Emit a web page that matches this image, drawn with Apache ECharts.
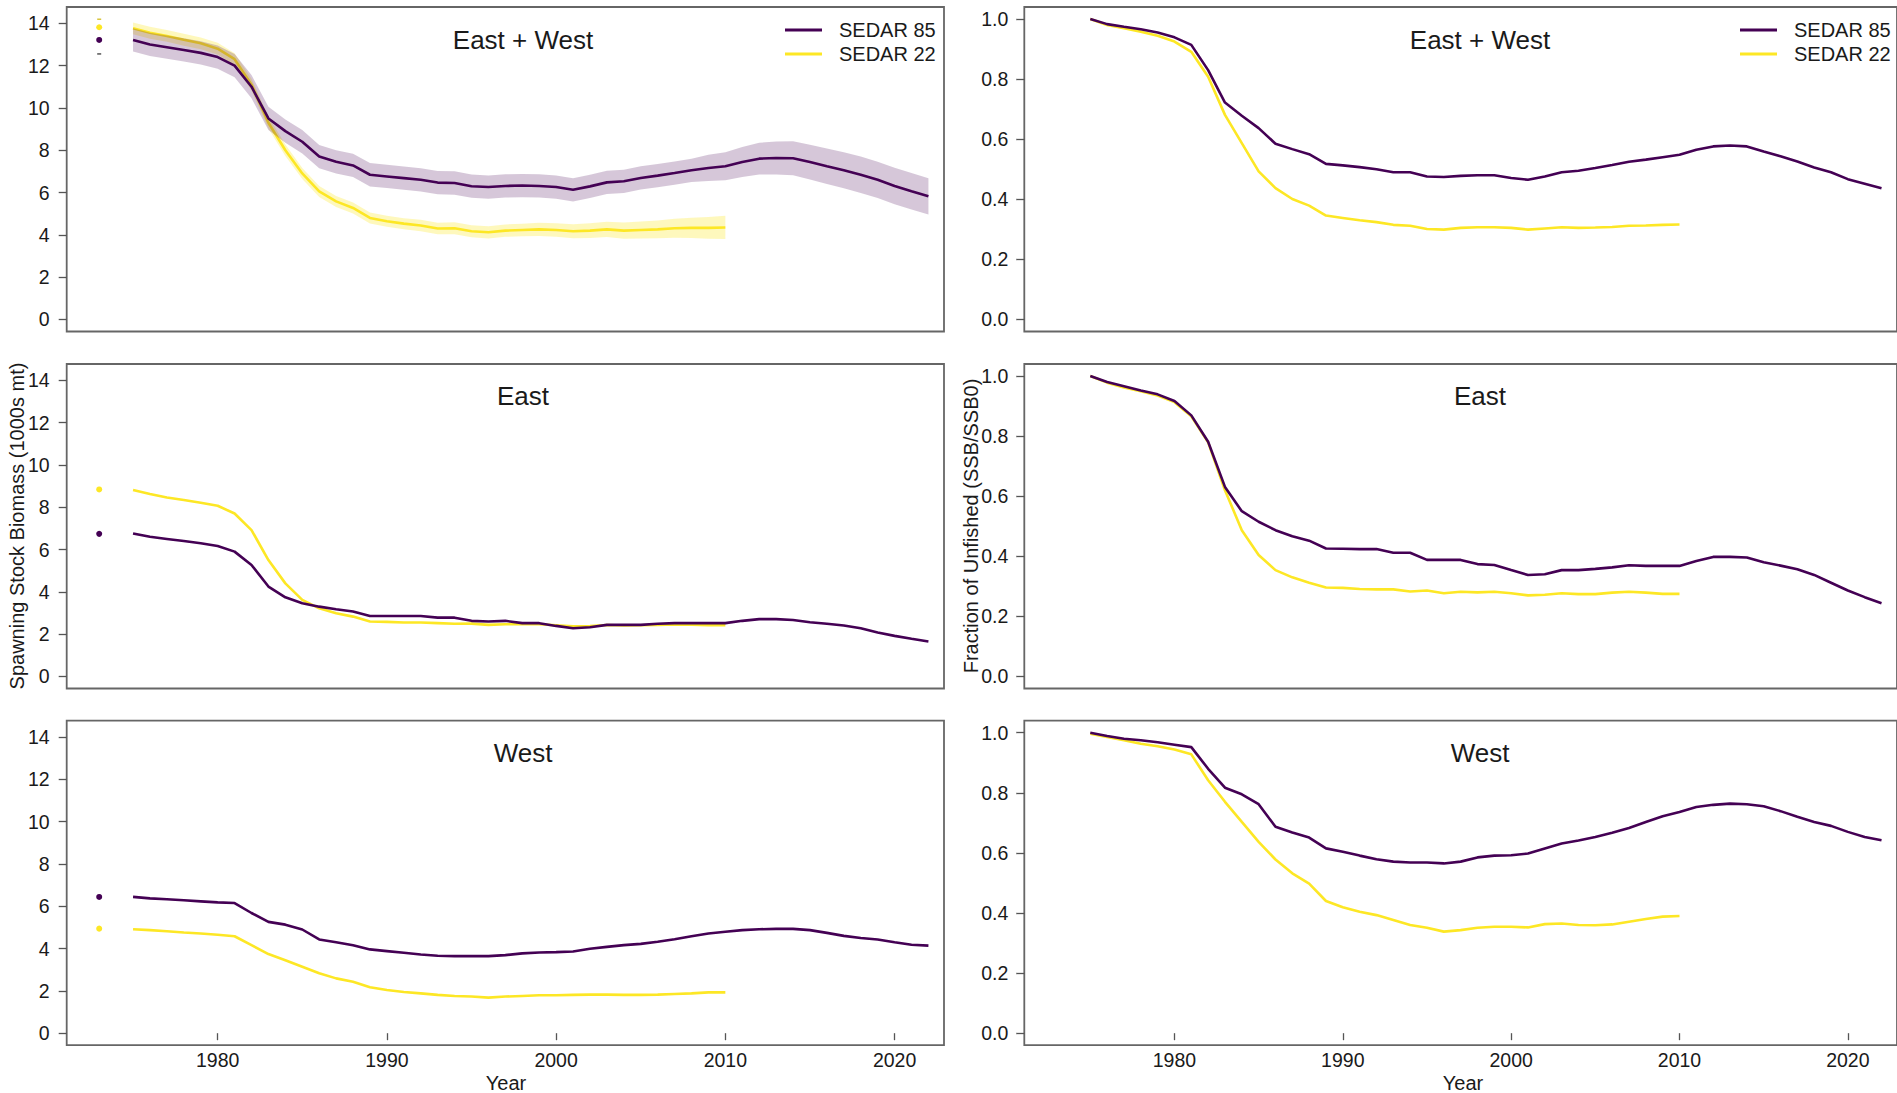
<!DOCTYPE html>
<html>
<head>
<meta charset="utf-8">
<script src="https://cdn.jsdelivr.net/npm/echarts@6/dist/echarts.min.js"></script>
<style>
html,body{margin:0;padding:0;background:#fff;}
#chart{width:1897px;height:1093px;}
</style>
</head>
<body>
<div id="chart"></div>
<script>
// ---------------- DATA ----------------
const years85 = [1975,1976,1977,1978,1979,1980,1981,1982,1983,1984,1985,1986,1987,1988,1989,1990,1991,1992,1993,1994,1995,1996,1997,1998,1999,2000,2001,2002,2003,2004,2005,2006,2007,2008,2009,2010,2011,2012,2013,2014,2015,2016,2017,2018,2019,2020,2021,2022];
const years22 = [1975,1976,1977,1978,1979,1980,1981,1982,1983,1984,1985,1986,1987,1988,1989,1990,1991,1992,1993,1994,1995,1996,1997,1998,1999,2000,2001,2002,2003,2004,2005,2006,2007,2008,2009,2010];

// East + West spawning stock biomass (1000s mt)
const ewSsb85 = [13.21,13.0,12.87,12.74,12.6,12.4,12.0,11.0,9.5,8.9,8.4,7.7,7.45,7.28,6.84,6.76,6.68,6.6,6.47,6.45,6.3,6.26,6.31,6.33,6.31,6.26,6.13,6.29,6.48,6.53,6.69,6.8,6.92,7.05,7.16,7.24,7.44,7.6,7.63,7.62,7.44,7.24,7.05,6.84,6.6,6.31,6.06,5.82];
const ewSsb85Hi = [13.76,13.55,13.42,13.29,13.15,12.95,12.55,11.55,10.05,9.45,8.95,8.25,8.0,7.83,7.39,7.31,7.23,7.15,7.02,7.0,6.85,6.81,6.86,6.88,6.86,6.81,6.68,6.84,7.03,7.08,7.24,7.35,7.47,7.6,7.78,7.9,8.15,8.35,8.41,8.42,8.26,8.08,7.9,7.7,7.46,7.17,6.92,6.68];
const ewSsb85Lo = [12.66,12.45,12.32,12.19,12.05,11.85,11.45,10.45,8.95,8.35,7.85,7.15,6.9,6.73,6.29,6.21,6.13,6.05,5.92,5.9,5.75,5.71,5.76,5.78,5.76,5.71,5.58,5.74,5.93,5.98,6.14,6.25,6.37,6.5,6.54,6.58,6.73,6.85,6.85,6.82,6.62,6.4,6.2,5.98,5.74,5.45,5.2,4.96];
const ewSsb22 = [13.76,13.55,13.4,13.22,13.05,12.8,12.3,11.1,9.3,8.0,6.9,6.05,5.58,5.27,4.8,4.64,4.53,4.44,4.3,4.31,4.17,4.12,4.2,4.23,4.26,4.23,4.17,4.2,4.26,4.2,4.23,4.26,4.31,4.33,4.33,4.35];
const ewSsb22Hi = [14.04,13.83,13.68,13.5,13.33,13.08,12.58,11.38,9.58,8.27,7.16,6.31,5.84,5.53,5.06,4.9,4.79,4.71,4.57,4.59,4.45,4.41,4.49,4.53,4.57,4.55,4.5,4.55,4.62,4.58,4.63,4.68,4.76,4.81,4.84,4.9];
const ewSsb22Lo = [13.48,13.27,13.12,12.94,12.77,12.52,12.02,10.82,9.02,7.73,6.64,5.79,5.32,5.01,4.54,4.38,4.27,4.17,4.03,4.03,3.89,3.83,3.91,3.93,3.95,3.91,3.84,3.85,3.9,3.82,3.83,3.84,3.86,3.85,3.82,3.8];

// East
const eSsb85 = [6.76,6.6,6.5,6.4,6.3,6.17,5.9,5.27,4.25,3.74,3.46,3.3,3.18,3.07,2.86,2.86,2.86,2.86,2.78,2.78,2.63,2.6,2.63,2.52,2.52,2.39,2.28,2.33,2.44,2.44,2.44,2.49,2.52,2.52,2.52,2.52,2.63,2.71,2.71,2.67,2.56,2.49,2.41,2.28,2.08,1.92,1.78,1.65];
const eSsb22 = [8.81,8.62,8.46,8.34,8.21,8.07,7.7,6.92,5.5,4.4,3.62,3.22,2.99,2.83,2.6,2.58,2.55,2.55,2.52,2.49,2.5,2.44,2.47,2.47,2.47,2.42,2.37,2.38,2.43,2.41,2.42,2.44,2.46,2.45,2.42,2.42];

// West
const wSsb85 = [6.44,6.37,6.33,6.28,6.23,6.18,6.15,5.68,5.26,5.13,4.9,4.43,4.3,4.16,3.96,3.88,3.8,3.72,3.66,3.64,3.64,3.64,3.69,3.77,3.81,3.83,3.86,3.99,4.08,4.16,4.22,4.32,4.44,4.58,4.71,4.79,4.87,4.91,4.93,4.93,4.87,4.74,4.6,4.5,4.43,4.3,4.18,4.14];
const wSsb22 = [4.91,4.87,4.82,4.76,4.71,4.65,4.58,4.16,3.74,3.45,3.14,2.83,2.59,2.43,2.17,2.04,1.95,1.88,1.81,1.76,1.73,1.68,1.73,1.76,1.79,1.79,1.81,1.82,1.82,1.81,1.81,1.82,1.85,1.88,1.93,1.93];

// Unfished spawning biomass (SSB0) points drawn at 1973
const ssb0Year = 1973;
const ewSsb0 = {s85: 13.21, s22: 13.81, s85Lo: 12.55, s22Hi: 14.19};
const eSsb0 = {s85: 6.74, s22: 8.84};
const wSsb0 = {s85: 6.44, s22: 4.94};

// Fraction of unfished (SSB/SSB0)
const ewFrac85 = [1.0,0.983,0.974,0.966,0.955,0.939,0.914,0.83,0.722,0.678,0.637,0.585,0.567,0.55,0.518,0.513,0.507,0.5,0.49,0.49,0.476,0.474,0.478,0.48,0.48,0.471,0.465,0.476,0.49,0.495,0.504,0.514,0.525,0.532,0.54,0.548,0.565,0.576,0.579,0.576,0.559,0.543,0.526,0.506,0.49,0.467,0.452,0.437];
const ewFrac22 = [1.0,0.98,0.969,0.958,0.944,0.925,0.891,0.808,0.681,0.587,0.493,0.437,0.401,0.379,0.346,0.338,0.33,0.324,0.315,0.312,0.301,0.299,0.305,0.307,0.307,0.305,0.299,0.303,0.307,0.305,0.306,0.308,0.312,0.313,0.315,0.316];
const eFrac85 = [1.0,0.98,0.966,0.952,0.939,0.917,0.869,0.781,0.631,0.55,0.515,0.487,0.467,0.452,0.426,0.425,0.424,0.424,0.412,0.412,0.388,0.388,0.388,0.374,0.371,0.354,0.338,0.34,0.354,0.354,0.358,0.363,0.37,0.368,0.368,0.368,0.384,0.398,0.398,0.396,0.38,0.369,0.357,0.338,0.312,0.286,0.264,0.244];
const eFrac22 = [1.0,0.978,0.962,0.949,0.935,0.913,0.866,0.779,0.62,0.487,0.404,0.354,0.33,0.312,0.296,0.295,0.291,0.29,0.29,0.283,0.286,0.277,0.282,0.28,0.282,0.277,0.27,0.272,0.277,0.274,0.274,0.279,0.282,0.279,0.275,0.275];
const wFrac85 = [1.0,0.989,0.98,0.975,0.968,0.96,0.952,0.88,0.817,0.795,0.762,0.687,0.668,0.651,0.615,0.604,0.591,0.579,0.571,0.568,0.568,0.565,0.571,0.585,0.591,0.592,0.598,0.615,0.631,0.641,0.653,0.667,0.683,0.703,0.722,0.736,0.753,0.76,0.764,0.762,0.755,0.739,0.72,0.703,0.69,0.67,0.653,0.642];
const wFrac22 = [0.997,0.986,0.975,0.963,0.955,0.944,0.928,0.842,0.77,0.703,0.637,0.578,0.532,0.498,0.44,0.419,0.404,0.393,0.377,0.36,0.351,0.338,0.343,0.351,0.354,0.354,0.352,0.363,0.365,0.36,0.359,0.362,0.371,0.38,0.388,0.39];

// Tick labels
const yearTicks = [1980,1990,2000,2010,2020];
const ssbTicks = [0,2,4,6,8,10,12,14];
const fracTicks = [0,0.2,0.4,0.6,0.8,1.0];
const fracTickLabels = ['0.0','0.2','0.4','0.6','0.8','1.0'];

const panelTitles = ['East + West','East','West'];
const seriesNames = ['SEDAR 85','SEDAR 22'];
const ssbAxisName = 'Spawning Stock Biomass (1000s mt)';
const fracAxisName = 'Fraction of Unfished (SSB/SSB0)';
const xAxisName = 'Year';

// ---------------- STYLE / BUILD ----------------
const FONT = '"Liberation Sans", Arial, Helvetica, sans-serif';
const C85 = '#440154';
const C22 = '#FDE725';
const BAND85 = 'rgba(68,1,84,0.22)';
const BAND22 = 'rgba(253,231,37,0.30)';
const TXT = '#1a1a1a';
const AXC = '#555';

const zip = (xs, ys) => xs.map((x, i) => [x, ys[i]]);

const colL = {left: 66.7, width: 877.3};
const colR = {left: 1024.3, width: 874.2};
const rowTops = [7, 364, 720.7];
const rowH = 324.5;

const grids = [];
const xAxes = [];
const yAxes = [];
for (let r = 0; r < 3; r++) {
  for (let c = 0; c < 2; c++) {
    const col = c === 0 ? colL : colR;
    grids.push({left: col.left, top: rowTops[r], width: col.width, height: rowH,
      show: true, borderColor: '#666', borderWidth: 1.8, backgroundColor: 'transparent', containLabel: false});
    const bottom = r === 2;
    xAxes.push({
      type: 'value', gridIndex: grids.length - 1, min: 1971.08, max: 2022.92,
      splitLine: {show: false}, axisLine: {show: false},
      axisTick: {show: bottom, length: 7, lineStyle: {color: AXC, width: 1.3}, customValues: yearTicks},
      axisLabel: {show: bottom, customValues: yearTicks, margin: 5, fontSize: 19.5, lineHeight: 20,
        fontFamily: FONT, color: TXT, formatter: v => String(v)}
    });
    if (c === 0) {
      yAxes.push({
        type: 'value', gridIndex: grids.length - 1, min: -0.568, max: 14.768,
        splitLine: {show: false}, axisLine: {show: false},
        axisTick: {show: true, length: 8, lineStyle: {color: AXC, width: 1.3}, customValues: ssbTicks},
        axisLabel: {customValues: ssbTicks, margin: 17, fontSize: 19.5, fontFamily: FONT, color: TXT,
          formatter: v => String(v)}
      });
    } else {
      yAxes.push({
        type: 'value', gridIndex: grids.length - 1, min: -0.04, max: 1.04,
        splitLine: {show: false}, axisLine: {show: false},
        axisTick: {show: true, length: 8, lineStyle: {color: AXC, width: 1.3}, customValues: fracTicks},
        axisLabel: {customValues: fracTicks, margin: 16, fontSize: 19.5, fontFamily: FONT, color: TXT,
          formatter: v => { const i = fracTicks.findIndex(t => Math.abs(t - v) < 1e-9); return i >= 0 ? fracTickLabels[i] : ''; }}
      });
    }
  }
}

const series = [];
function line(name, gi, xs, ys, color, z) {
  series.push({type: 'line', name, xAxisIndex: gi, yAxisIndex: gi, data: zip(xs, ys),
    symbol: 'none', showSymbol: false, silent: true, z,
    lineStyle: {width: 2.6, color}, itemStyle: {color}, emphasis: {disabled: true}});
}
function band(name, gi, xs, lo, hi, fill, z) {
  series.push({type: 'custom', name, xAxisIndex: gi, yAxisIndex: gi, silent: true, z,
    data: xs.map((x, i) => [x, lo[i], hi[i]]),
    encode: {x: 0, y: [1, 2]},
    renderItem: (params, api) => {
      if (params.dataIndex !== 0) return null;
      const top = xs.map((x, i) => api.coord([x, hi[i]]));
      const bot = xs.map((x, i) => api.coord([x, lo[i]])).reverse();
      return {type: 'polygon', shape: {points: top.concat(bot)}, style: {fill, stroke: null}};
    }});
}
function dots(name, gi, pts, color, sym, size, z) {
  series.push({type: 'scatter', name, xAxisIndex: gi, yAxisIndex: gi, silent: true, z,
    data: pts.map(v => [ssb0Year, v]), symbol: sym, symbolSize: size,
    itemStyle: {color, opacity: 1}, emphasis: {disabled: true}});
}

// Grid 0: East + West SSB
band('SEDAR 22 CI', 0, years22, ewSsb22Lo, ewSsb22Hi, BAND22, 2);
line('SEDAR 22', 0, years22, ewSsb22, C22, 3);
band('SEDAR 85 CI', 0, years85, ewSsb85Lo, ewSsb85Hi, BAND85, 4);
line('SEDAR 85', 0, years85, ewSsb85, C85, 5);
dots('SEDAR 22 SSB0', 0, [ewSsb0.s22], C22, 'circle', 6, 6);
dots('SEDAR 85 SSB0', 0, [ewSsb0.s85], C85, 'circle', 6, 6);
dots('SEDAR 22 SSB0 CI', 0, [ewSsb0.s22Hi], '#d9c640', 'rect', [4, 1.5], 6);
dots('SEDAR 85 SSB0 CI', 0, [ewSsb0.s85Lo], '#555', 'rect', [4, 1.5], 6);
// Grid 1: East + West fraction
line('SEDAR 22', 1, years22, ewFrac22, C22, 3);
line('SEDAR 85', 1, years85, ewFrac85, C85, 5);
// Grid 2: East SSB
line('SEDAR 22', 2, years22, eSsb22, C22, 3);
line('SEDAR 85', 2, years85, eSsb85, C85, 5);
dots('SEDAR 22 SSB0', 2, [eSsb0.s22], C22, 'circle', 6, 6);
dots('SEDAR 85 SSB0', 2, [eSsb0.s85], C85, 'circle', 6, 6);
// Grid 3: East fraction
line('SEDAR 22', 3, years22, eFrac22, C22, 3);
line('SEDAR 85', 3, years85, eFrac85, C85, 5);
// Grid 4: West SSB
line('SEDAR 22', 4, years22, wSsb22, C22, 3);
line('SEDAR 85', 4, years85, wSsb85, C85, 5);
dots('SEDAR 22 SSB0', 4, [wSsb0.s22], C22, 'circle', 6, 6);
dots('SEDAR 85 SSB0', 4, [wSsb0.s85], C85, 'circle', 6, 6);
// Grid 5: West fraction
line('SEDAR 22', 5, years22, wFrac22, C22, 3);
line('SEDAR 85', 5, years85, wFrac85, C85, 5);

function legendAt(left) {
  return {data: [seriesNames[0], seriesNames[1]], orient: 'vertical', left, top: 18, padding: 0,
    itemWidth: 37, itemHeight: 3, itemGap: 0, icon: 'rect', selectedMode: false,
    textStyle: {fontSize: 20, lineHeight: 24, color: TXT, fontFamily: FONT, padding: [0, 0, 0, 12]}};
}

function txt(text, x, y, size, rot) {
  const el = {type: 'text', x, y, silent: true, z: 10,
    style: {text, fontSize: size, fontFamily: FONT, fill: TXT,
      align: 'center', verticalAlign: 'middle', textAlign: 'center', textVerticalAlign: 'middle'}};
  if (rot) el.rotation = rot;
  return el;
}
const titleXs = [523, 1480];
const titleYs = [40, 396, 753];
const graphic = [];
for (let r = 0; r < 3; r++) {
  for (let c = 0; c < 2; c++) graphic.push(txt(panelTitles[r], titleXs[c], titleYs[r], 26));
}
graphic.push(txt(ssbAxisName, 16.5, 526, 20, Math.PI / 2));
graphic.push(txt(fracAxisName, 971, 526, 20, Math.PI / 2));
graphic.push(txt(xAxisName, 506, 1083, 20));
graphic.push(txt(xAxisName, 1463, 1083, 20));

const chart = echarts.init(document.getElementById('chart'), null, {renderer: 'svg', width: 1897, height: 1093});
chart.setOption({
  animation: false,
  backgroundColor: '#ffffff',
  textStyle: {fontFamily: FONT},
  grid: grids,
  xAxis: xAxes,
  yAxis: yAxes,
  legend: [legendAt(785), legendAt(1740)],
  series,
  graphic
});
</script>
</body>
</html>
